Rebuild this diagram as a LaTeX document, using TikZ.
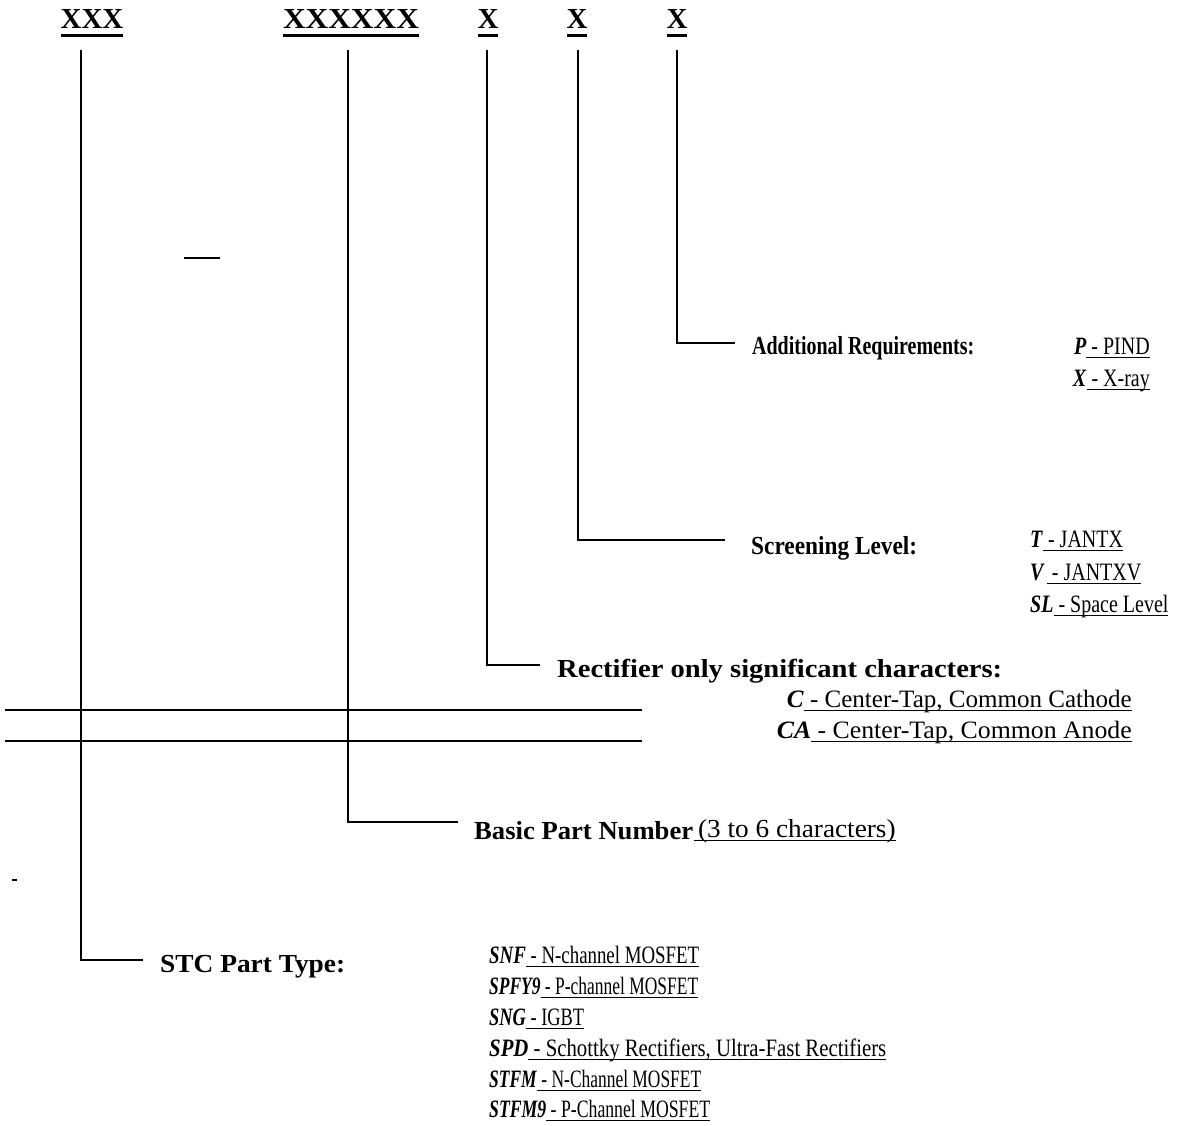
\documentclass[tikz,border=0pt]{standalone}
\usepackage{graphicx}
\usepackage{fontspec}
\setmainfont{Liberation Serif}
\newsavebox\ulbox
\newsavebox\fitbox
\newcommand\ul[1]{\sbox\ulbox{#1}\rlap{\rule[-4pt]{\wd\ulbox}{1.4pt}}\usebox\ulbox}
\newcommand\hul[1]{\sbox\ulbox{#1}\rlap{\rule[-8pt]{\wd\ulbox}{3pt}}\usebox\ulbox}
\newcommand\code[2]{\textbf{\textit{#1}}\ul{ - #2}}
\newcommand\fitx[2]{\sbox\fitbox{#2}\pgfmathsetmacro\fitf{#1/\the\wd\fitbox}\scalebox{\fitf}[1]{\usebox\fitbox}}
\newcommand\sclx[2]{\scalebox{#1}[1]{#2}}
\tikzset{
  lbl/.style={anchor=base west, inner sep=0pt, font=\fontsize{26}{31}\selectfont\bfseries},
  itm/.style={anchor=base west, inner sep=0pt, font=\fontsize{25}{31}\selectfont},
  itmr/.style={anchor=base east, inner sep=0pt, font=\fontsize{25}{31}\selectfont},
  hdr/.style={anchor=base, inner sep=0pt, font=\fontsize{29}{33}\selectfont\bfseries},
  conn/.style={line width=1.6pt},
}
\begin{document}
\begin{tikzpicture}[x=1pt,y=-1pt]
\useasboundingbox[fill=white] (0,0) rectangle (1183,1126);
% headers
\node[hdr] (h1) at (92,29) {\hul{XXX}};
\node[hdr] (h2) at (351,29) {\hul{\fitx{136}{XXXXXX}}};
\node[hdr] (h3) at (488,29) {\hul{X}};
\node[hdr] (h4) at (577,29) {\hul{X}};
\node[hdr] (h5) at (677,29) {\hul{X}};
% connector points
\coordinate (s1) at (81,50);  \coordinate (e1) at (143,960);
\coordinate (s2) at (348,50); \coordinate (e2) at (458,822);
\coordinate (s3) at (487,50); \coordinate (e3) at (540,665);
\coordinate (s4) at (578,50); \coordinate (e4) at (725,540);
\coordinate (s5) at (677,50); \coordinate (e5) at (735,343);
\draw[conn] (s1) |- (e1);
\draw[conn] (s2) |- (e2);
\draw[conn] (s3) |- (e3);
\draw[conn] (s4) |- (e4);
\draw[conn] (s5) |- (e5);
% Additional requirements
\node[lbl] (addl) at (752,354) {\fitx{222}{Additional Requirements:}};
\node[itmr] (pind) at (1150,354) {\sclx{0.8}{\code{P}{PIND}}};
\node[itmr] (xray) at (1150,386) {\sclx{0.8}{\code{X}{X-ray}}};
% Screening level
\node[lbl] (scr) at (751,554) {\fitx{166}{Screening Level:}};
\node[itm] (jtx) at (1030,547) {\sclx{0.8}{\code{T}{JANTX}}};
\node[itm] (jtxv) at (1030,580) {\sclx{0.8}{\code{V\,}{JANTXV}}};
\node[itm] (sl) at (1030,612) {\sclx{0.8}{\code{SL}{Space Level}}};
% Rectifier
\node[lbl] (rect) at (557,677) {\fitx{445}{Rectifier only significant characters:}};
\node[itmr] (cc) at (1132,707) {\fitx{345}{\code{C}{Center-Tap, Common Cathode}}};
\node[itmr] (ca) at (1132,738) {\fitx{355}{\code{CA}{Center-Tap, Common Anode}}};
% double lines
\coordinate (d1a) at (5,710);  \coordinate (d1b) at (642,710);
\coordinate (d2a) at (5,741);  \coordinate (d2b) at (642,741);
\draw[conn] (d1a) -- (d1b);
\draw[conn] (d2a) -- (d2b);
% Basic part number
\node[lbl] (bpn) at (474,839) {\fitx{219}{Basic Part Number}};
\node[anchor=base west, inner sep=0pt, font=\fontsize{26}{30}\selectfont] (bpn2) at (bpn.base east) [yshift=2pt] {\fitx{202}{\ul{\,(3 to 6 characters)}}};
% STC part type
\node[lbl] (stc) at (160,972) {\fitx{185}{STC Part Type:}};
\node[itm] (t1) at (489,963) {\fitx{210}{\code{SNF}{N-channel MOSFET}}};
\node[itm] (t2) at (489,994) {\fitx{209}{\code{SPFY9}{P-channel MOSFET}}};
\node[itm] (t3) at (489,1025) {\fitx{95}{\code{SNG}{IGBT}}};
\node[itm] (t4) at (489,1056) {\fitx{397}{\code{SPD}{Schottky Rectifiers, Ultra-Fast Rectifiers}}};
\node[itm] (t5) at (489,1087) {\fitx{212}{\code{STFM}{N-Channel MOSFET}}};
\node[itm] (t6) at (489,1117) {\fitx{221}{\code{STFM9}{P-Channel MOSFET}}};
% stray marks
\coordinate (m1a) at (184,258); \coordinate (m1b) at (220,258);
\draw[conn] (m1a) -- (m1b);
\coordinate (m2a) at (12,880); \coordinate (m2b) at (17,880);
\draw[line width=1.4pt] (m2a) -- (m2b);
\end{tikzpicture}
\end{document}
